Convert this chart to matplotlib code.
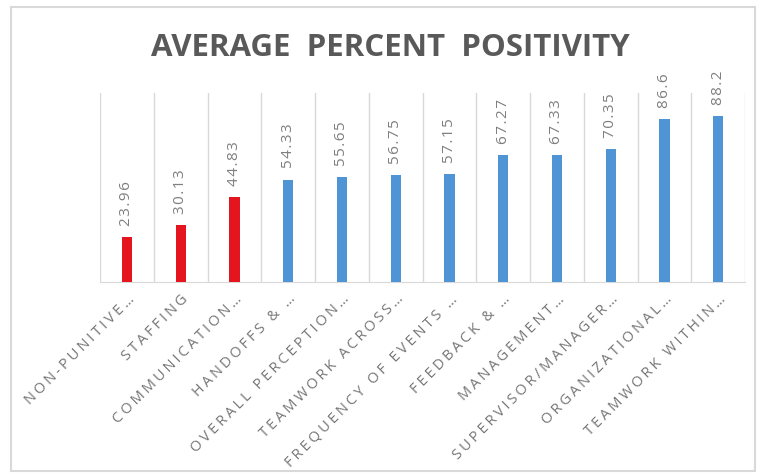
import matplotlib

matplotlib.use("Agg")
import matplotlib.pyplot as plt
from matplotlib.patches import Rectangle

categories = [
    "NON-PUNITIVE…",
    "STAFFING",
    "COMMUNICATION…",
    "HANDOFFS & …",
    "OVERALL PERCEPTION…",
    "TEAMWORK ACROSS…",
    "FREQUENCY OF EVENTS …",
    "FEEDBACK & …",
    "MANAGEMENT…",
    "SUPERVISOR/MANAGER…",
    "ORGANIZATIONAL…",
    "TEAMWORK WITHIN…",
]
values = [23.96, 30.13, 44.83, 54.33, 55.65, 56.75, 57.15, 67.27, 67.33, 70.35, 86.6, 88.2]
value_labels = ["23.96", "30.13", "44.83", "54.33", "55.65", "56.75", "57.15",
                "67.27", "67.33", "70.35", "86.6", "88.2"]
low_count = 3  # first three dimensions flagged in red

RED = "#E4151F"
BLUE = "#4F94D4"
GREY_TEXT = "#7F7F7F"
HAIR = "\u200a"

plt.rcParams["font.family"] = ["Open Sans", "DejaVu Sans"]


def spaced(text, gap=1):
    return (HAIR * gap).join(text)


fig = plt.figure(figsize=(7.59, 4.75), dpi=100)
ax = fig.add_axes([0.1318, 0.4063, 0.8498, 0.397])

colors = [RED if i < low_count else BLUE for i in range(len(values))]
x = range(len(values))
ax.bar(x, values, width=0.19, color=colors, zorder=3)

for xi, v, lab in zip(x, values, value_labels):
    ax.annotate(spaced(lab), (xi, v), xytext=(0, 8), textcoords="offset points",
                rotation=90, ha="center", va="bottom", fontsize=11,
                color=GREY_TEXT)

ax.set_xlim(-0.5, len(values) - 0.5)
ax.set_ylim(0, 100)
ax.set_yticks([])
ax.set_xticks([i - 0.5 for i in range(len(values) + 1)], minor=True)
ax.grid(True, which="minor", axis="x", color="#D9D9D9", linewidth=1)
ax.tick_params(axis="x", which="both", length=0)
ax.set_xticks(list(x))
ax.set_xticklabels([spaced(c, 2) for c in categories], rotation=45,
                   ha="right", va="top", rotation_mode="anchor",
                   fontsize=10.5, color="#767676")
ax.tick_params(axis="x", pad=7)
for side in ("top", "left", "right"):
    ax.spines[side].set_visible(False)
ax.spines["bottom"].set_color("#D9D9D9")

fig.text(0.514, 0.899, "AVERAGE  PERCENT  POSITIVITY", ha="center", va="center",
         fontsize=22.5, fontweight="bold", color="#595959")

fig.patches.append(Rectangle((11 / 759, 4 / 475), 744 / 759, 464 / 475,
                             transform=fig.transFigure, fill=False,
                             edgecolor="#D9D9D9", linewidth=1.5))

fig.savefig("out.png", dpi=100, facecolor="white")
